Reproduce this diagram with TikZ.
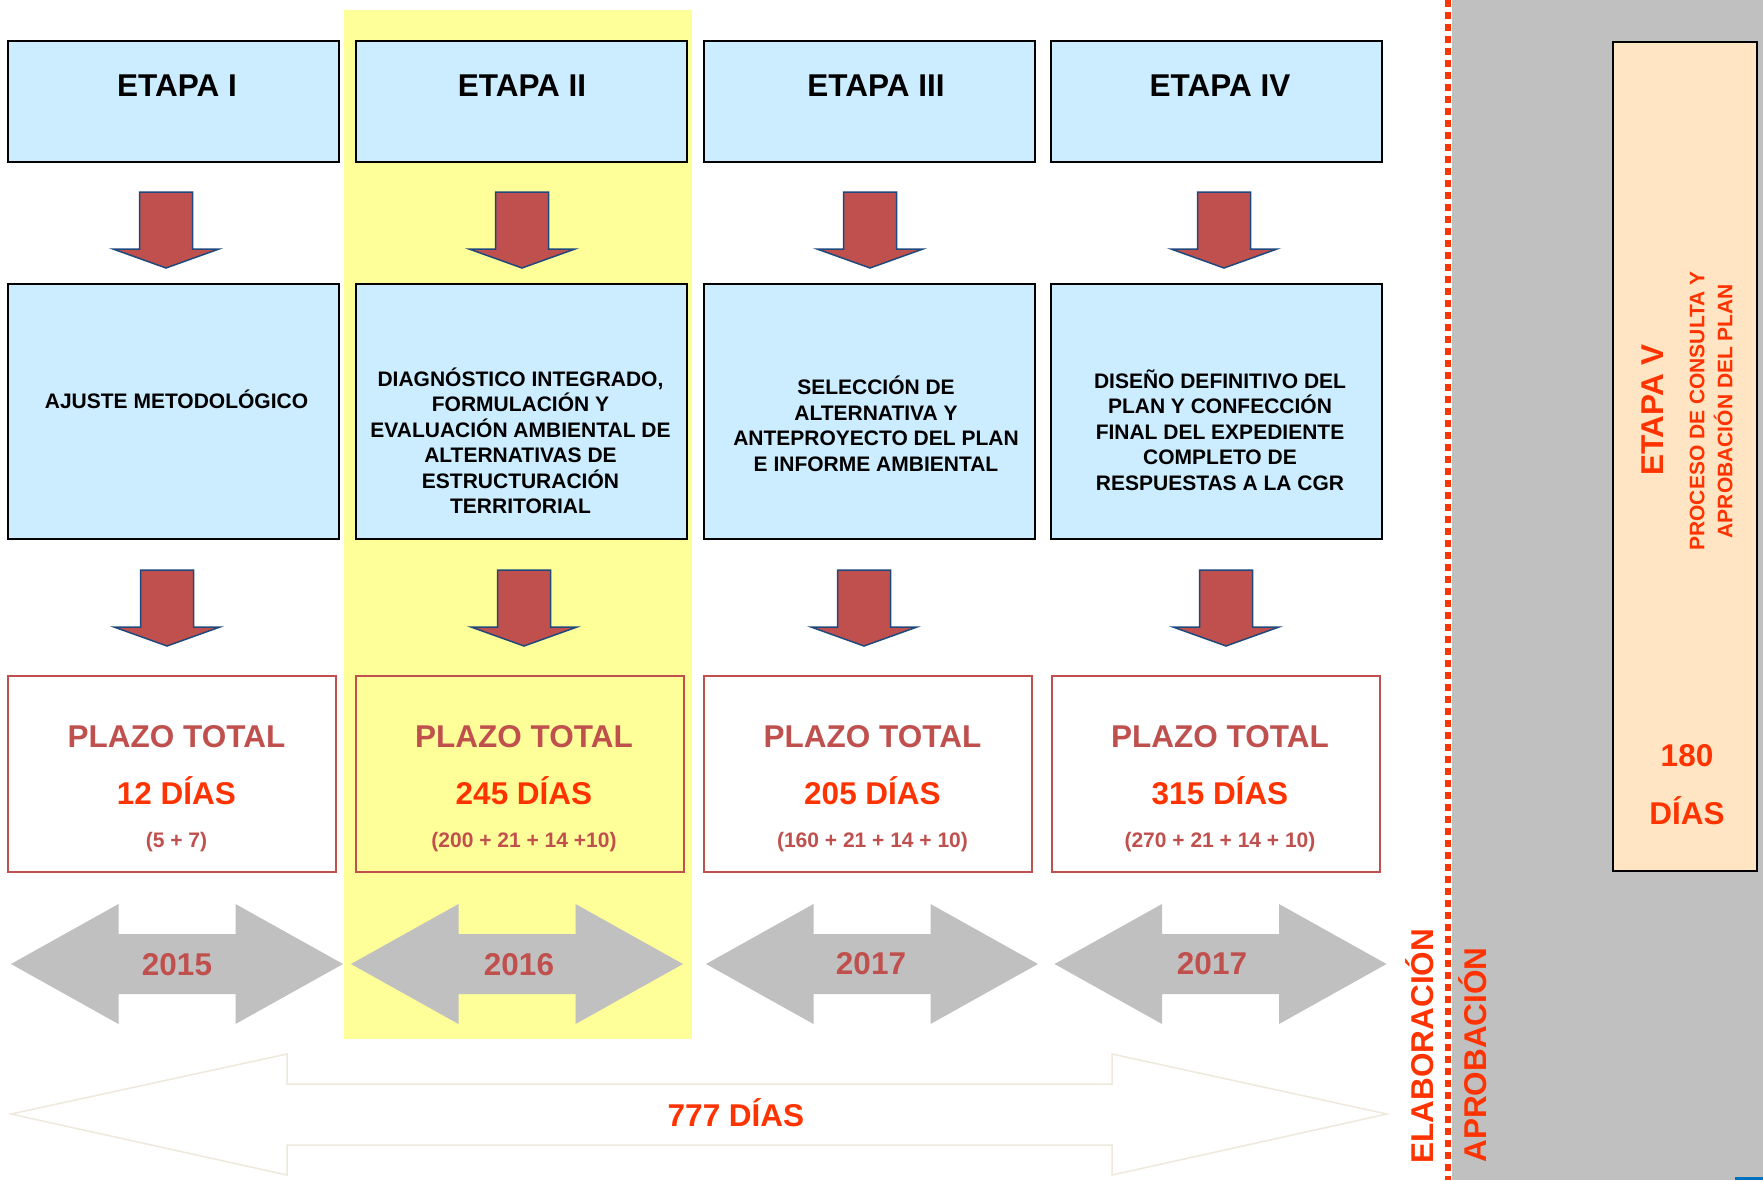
\documentclass[tikz,border=0pt]{standalone}
\usepackage{fontspec}
\setmainfont{Liberation Sans}
\usetikzlibrary{positioning}

\definecolor{boxblue}{HTML}{CCECFF}
\definecolor{bandyellow}{HTML}{FFFF99}
\definecolor{arrowred}{HTML}{C0504D}
\definecolor{arrowblue}{HTML}{1F497D}
\definecolor{plazored}{HTML}{C0504D}
\definecolor{hotred}{HTML}{FF3300}
\definecolor{yeargray}{HTML}{C0C0C0}
\definecolor{etapavfill}{HTML}{FFE5C4}
\definecolor{outlinebeige}{HTML}{EEE9DC}
\definecolor{markblue}{HTML}{0070C0}

\newcommand{\bigfont}{\fontsize{31.5}{36}\selectfont\bfseries}
\newcommand{\smallfont}{\fontsize{21}{25.5}\selectfont\bfseries}

\begin{document}
\begin{tikzpicture}[x=1pt, y=-1pt,
    etapabox/.style={draw=black, line width=2pt, fill=boxblue, inner sep=0pt},
    plazobox/.style={draw=plazored, line width=2pt, inner sep=0pt},
    bigtxt/.style={font=\bigfont, text height=22.6pt, text depth=0pt, inner sep=0pt},
    parentxt/.style={font=\smallfont, text height=15pt, text depth=0pt, inner sep=0pt, text=plazored},
    smalltxt/.style={font=\smallfont, align=center, inner sep=0pt},
    downarrow/.pic={\draw[fill=arrowred, draw=arrowblue, line width=1.5pt, line join=miter] (-26.5,0) -- (26.5,0) -- (26.5,57) -- (53,57) -- (0,76) -- (-53,57) -- (-26.5,57) -- cycle;},
    yeararrow/.pic={\fill[yeargray] (-166,0) -- (-58.5,-60) -- (-58.5,-30) -- (58.5,-30) -- (58.5,-60) -- (166,0) -- (58.5,60) -- (58.5,30) -- (-58.5,30) -- (-58.5,60) -- cycle;}]

      \useasboundingbox (0,0) rectangle (1763,1180);
      \fill[white] (0,0) rectangle (1763,1180);

      % highlighted year
      \fill[bandyellow] (344,10) rectangle (692,1039);

      % approval side
      \fill[yeargray] (1452,0) rectangle (1763,1180);
      \draw[hotred, line width=6pt, dash pattern=on 7pt off 5pt] (1448,0) -- (1448,1180);
      \fill[markblue] (1735,1177) rectangle (1763,1180);

      \node[etapabox] (e1) at (173.5,101.5) [minimum width=331pt, minimum height=121pt] {};
      \node[etapabox] (e2) at (521.5,101.5) [minimum width=331pt, minimum height=121pt] {};
      \node[etapabox] (e3) at (869.5,101.5) [minimum width=331pt, minimum height=121pt] {};
      \node[etapabox] (e4) at (1216.5,101.5) [minimum width=331pt, minimum height=121pt] {};

      \node[bigtxt] (e1t) at (177,85.5) {ETAPA I};
      \node[bigtxt] (e2t) at (522,85.5) {ETAPA II};
      \node[bigtxt] (e3t) at (876,85.5) {ETAPA III};
      \node[bigtxt] (e4t) at (1220,85.5) {ETAPA IV};

      \pic at (166,192) {downarrow};
      \pic at (522,192) {downarrow};
      \pic at (870,192) {downarrow};
      \pic at (1224,192) {downarrow};

      \node[etapabox] (m1) at (173.5,411.5) [minimum width=331pt, minimum height=255pt] {};
      \node[etapabox] (m2) at (521.5,411.5) [minimum width=331pt, minimum height=255pt] {};
      \node[etapabox] (m3) at (869.5,411.5) [minimum width=331pt, minimum height=255pt] {};
      \node[etapabox] (m4) at (1216.5,411.5) [minimum width=331pt, minimum height=255pt] {};

      \node[smalltxt] (m1t) at (176.5,399) {AJUSTE METODOLÓGICO};
      \node[smalltxt] (m2t) at (520.5,441) {DIAGNÓSTICO INTEGRADO,\\ FORMULACIÓN Y\\ EVALUACIÓN AMBIENTAL DE\\ ALTERNATIVAS DE\\ ESTRUCTURACIÓN\\ TERRITORIAL};
      \node[smalltxt] (m3t) at (876,424) {SELECCIÓN DE\\ ALTERNATIVA Y\\ ANTEPROYECTO DEL PLAN\\ E INFORME AMBIENTAL};
      \node[smalltxt] (m4t) at (1220,430) {DISEÑO DEFINITIVO DEL\\ PLAN Y CONFECCIÓN\\ FINAL DEL EXPEDIENTE\\ COMPLETO DE\\ RESPUESTAS A LA CGR};

      \pic at (167,570) {downarrow};
      \pic at (524,570) {downarrow};
      \pic at (864,570) {downarrow};
      \pic at (1226,570) {downarrow};

      \node[plazobox] (p1) at (172,774) [minimum width=328pt, minimum height=196pt] {};
      \node[plazobox] (p2) at (519.5,774) [minimum width=328pt, minimum height=196pt] {};
      \node[plazobox] (p3) at (867.5,774) [minimum width=328pt, minimum height=196pt] {};
      \node[plazobox] (p4) at (1215.5,774) [minimum width=328pt, minimum height=196pt] {};

      \node[bigtxt, text=plazored] (p1a) at (176.5,736) {PLAZO TOTAL};
      \node[bigtxt, text=plazored] (p2a) at (524,736) {PLAZO TOTAL};
      \node[bigtxt, text=plazored] (p3a) at (872.5,736) {PLAZO TOTAL};
      \node[bigtxt, text=plazored] (p4a) at (1220,736) {PLAZO TOTAL};

      \node[bigtxt, text=hotred] (p1b) at (176.5,793) {12 DÍAS};
      \node[bigtxt, text=hotred] (p2b) at (524,793) {245 DÍAS};
      \node[bigtxt, text=hotred] (p3b) at (872.5,793) {205 DÍAS};
      \node[bigtxt, text=hotred] (p4b) at (1220,793) {315 DÍAS};

      \node[parentxt] (p1c) at (176.5,840) {(5 + 7)};
      \node[parentxt] (p2c) at (524,840) {(200 + 21 + 14 +10)};
      \node[parentxt] (p3c) at (872.5,840) {(160 + 21 + 14 + 10)};
      \node[parentxt] (p4c) at (1220,840) {(270 + 21 + 14 + 10)};

      % years
      \pic at (177,964) {yeararrow};
      \pic at (517,964) {yeararrow};
      \pic at (872,964) {yeararrow};
      \pic at (1220.5,964) {yeararrow};
      \node[bigtxt, text=plazored] (y1) at (177,964) {2015};
      \node[bigtxt, text=plazored] (y2) at (519,964) {2016};
      \node[bigtxt, text=plazored] (y3) at (871,963) {2017};
      \node[bigtxt, text=plazored] (y4) at (1212,963) {2017};

      % whole elaboration
      \draw[outlinebeige, fill=white, line width=1.5pt] (11,1114) -- (287,1054) -- (287,1084) -- (1112,1084) -- (1112,1054) -- (1387,1114) -- (1112,1175) -- (1112,1145) -- (287,1145) -- (287,1175) -- cycle;
      \node[bigtxt, text=hotred] (total) at (736,1115) {777 DÍAS};

      \node[bigtxt, text=hotred, rotate=90] (elab) at (1422.5,1046) {ELABORACIÓN};
      \node[bigtxt, text=hotred, rotate=90] (aprob) at (1475,1055) {APROBACIÓN};

      % etapa V
      \node[draw=black, line width=2pt, fill=etapavfill, inner sep=0pt, minimum width=144pt, minimum height=829pt] (e5) at (1685,456.5) {};
      \node[bigtxt, text=hotred, rotate=90] (e5t) at (1652,410) {ETAPA V};
      \node[smalltxt, text=hotred, rotate=90, font=\fontsize{21}{28}\selectfont\bfseries] (e5s) at (1711,411) {PROCESO DE CONSULTA Y\\ APROBACIÓN DEL PLAN};
      \node[bigtxt, text=hotred] (e5a) at (1687,755) {180};
      \node[bigtxt, text=hotred] (e5b) at (1687,813) {DÍAS};
    \end{tikzpicture}
\end{document}
